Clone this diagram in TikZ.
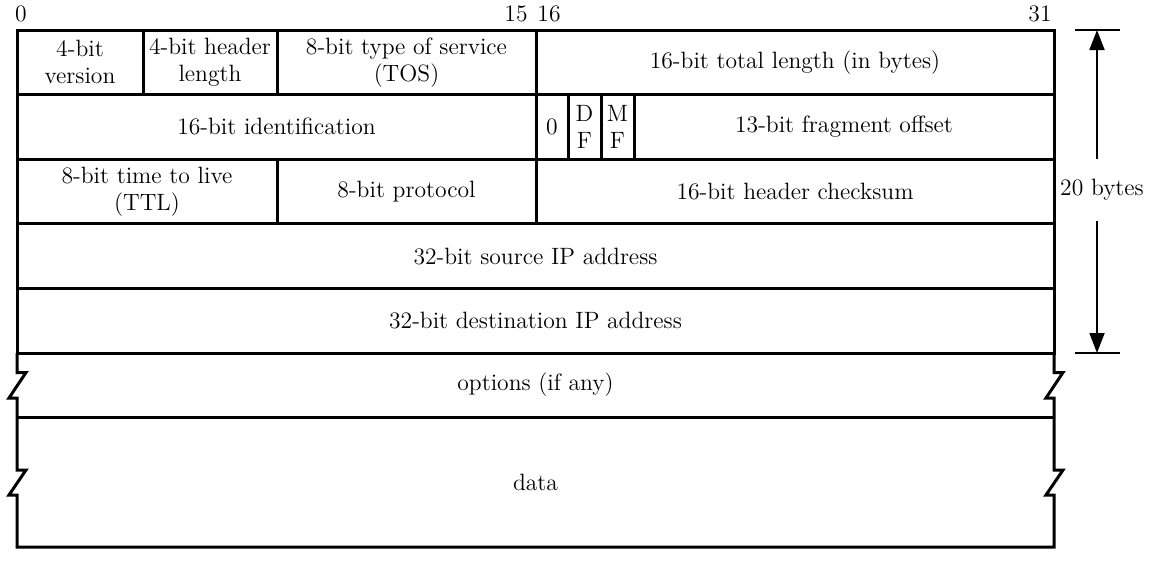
\documentclass[tikz,border=0pt]{standalone}
\usetikzlibrary{arrows.meta}

\newcommand{\fieldfont}{\fontsize{11.8}{13.5}\selectfont}

\begin{document}
\begin{tikzpicture}[x=0.5pt,y=-0.5pt,
  field/.style={draw,line width=1.5pt,inner sep=0pt,minimum height=32.3pt,align=center,font=\fieldfont},
  bitnum/.style={font=\fieldfont,inner sep=0pt},
  edge/.style={line width=1.5pt},
  tick/.style={line width=0.6pt},
  size/.style={line width=0.9pt,-{Triangle[length=10pt,width=7.5pt]}}]
\useasboundingbox (0,0) rectangle (1157,562);

% bit numbers
\node[bitnum] (b0) at (21,14) {0};
\node[bitnum] (b15) at (516,14) {15};
\node[bitnum] (b16) at (549,14) {16};
\node[bitnum] (b31) at (1040,14) {31};

% first row
\node[field,minimum width=63pt] (ver) at (80,62.3) {4-bit\\version};
\node[field,minimum width=67pt] (hlen) at (210,62.3) {4-bit header\\length};
\node[field,minimum width=129.5pt] (tos) at (406.5,62.3) {8-bit type of service\\(TOS)};
\node[field,minimum width=259pt] (tlen) at (795,62.3) {16-bit total length (in bytes)};

% second row
\node[field,minimum width=259.5pt] (ident) at (276.5,126.9) {16-bit identification};
\node[field,minimum width=16pt] (zero) at (552,126.9) {0};
\node[field,minimum width=16.5pt] (df) at (584.5,126.9) {D\\F};
\node[field,minimum width=16.5pt] (mf) at (617.5,126.9) {M\\F};
\node[field,minimum width=210pt] (frag) at (844,126.9) {13-bit fragment offset};

% third row
\node[field,minimum width=130pt] (ttl) at (147,191.5) {8-bit time to live\\(TTL)};
\node[field,minimum width=129.5pt] (proto) at (406.5,191.5) {8-bit protocol};
\node[field,minimum width=259pt] (csum) at (795,191.5) {16-bit header checksum};

% addresses
\node[field,minimum width=518.5pt] (src) at (535.5,256.1) {32-bit source IP address};
\node[field,minimum width=518.5pt] (dst) at (535.5,320.7) {32-bit destination IP address};

% options and data, with broken sides
\draw[edge] (17,353) -- (17,372.5) -- (26,372.5) -- (9,398) -- (17,398)
  -- (17,470) -- (26,470) -- (9,495) -- (17,495) -- (17,547)
  -- (1054,547) -- (1054,495) -- (1046,495) -- (1063,470) -- (1054,470)
  -- (1054,398) -- (1046,398) -- (1063,372.5) -- (1054,372.5) -- (1054,353);
\draw[edge] (17,417.5) -- (1054,417.5);
\node[font=\fieldfont] (opt) at (535.5,385) {options (if any)};
\node[font=\fieldfont] (data) at (535.5,482) {data};

% header size
\coordinate (hdrtop) at (1097,30);
\coordinate (hdrbot) at (1097,353);
\node[font=\fieldfont,minimum height=31pt,inner sep=0pt] (bytes) at (1102,190) {20 bytes};
\draw[tick] (hdrtop) +(-22,0) -- +(23,0);
\draw[tick] (hdrbot) +(-22,0) -- +(23,0);
\draw[size] (bytes.north -| hdrtop) -- (hdrtop);
\draw[size] (bytes.south -| hdrtop) -- (hdrbot);
\end{tikzpicture}
\end{document}
